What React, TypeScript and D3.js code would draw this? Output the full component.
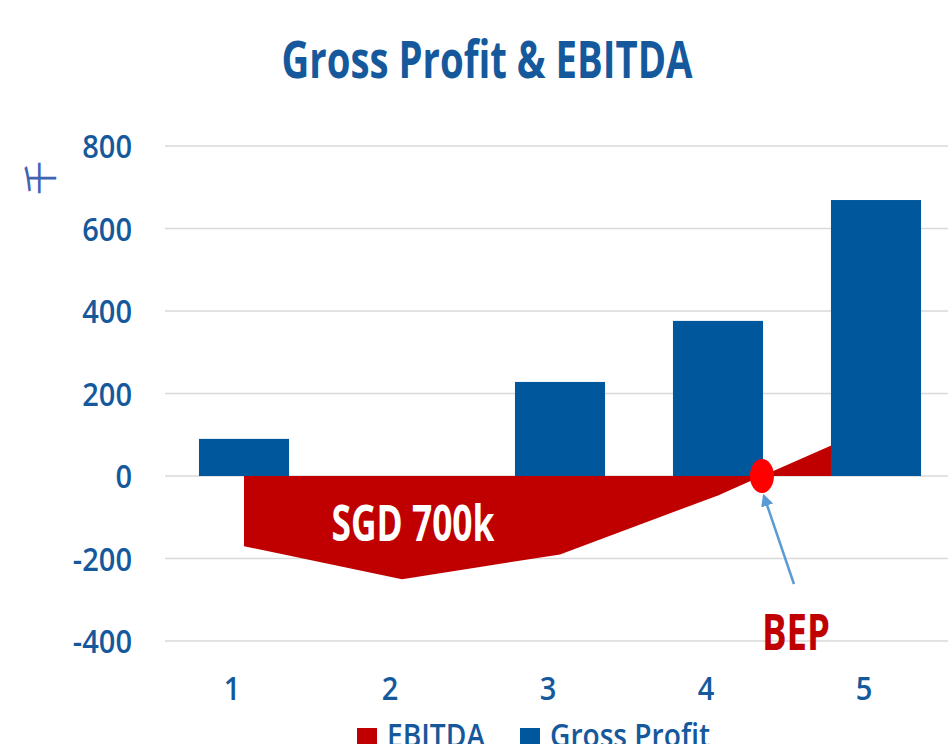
import React from "react";
import * as d3 from "d3";

const categories = ["1", "2", "3", "4", "5"];
const grossProfit = [90, 0, 228, 376, 669];
const ebitda = [-170, -250, -190, -47, 122];
const yTicks = [-400, -200, 0, 200, 400, 600, 800];
const legendItems = ["EBITDA", "Gross Profit"];

const W = 948;
const H = 744;
const BLUE = "#00579b";
const RED = "#c00000";
const TXT = "#15599c";
const FONT = "'Open Sans', 'Noto Sans', sans-serif";

export default function App() {
  const x = d3
    .scaleBand<string>()
    .domain(categories)
    .range([165, 955])
    .paddingInner(0.43)
    .paddingOuter(0.215);
  const y = d3.scaleLinear().domain([-400, 800]).range([641, 146]);
  const cx = (c: string) => (x(c) as number) + x.bandwidth() / 2;

  const pts = categories.map((c, i) => ({ c, v: ebitda[i] }));
  const area = d3
    .area<{ c: string; v: number }>()
    .x((d) => cx(d.c))
    .y0(y(0))
    .y1((d) => y(d.v));

  // break-even point from data (zero crossing of EBITDA)
  let bepX = 0;
  for (let i = 0; i < ebitda.length - 1; i++) {
    if (ebitda[i] < 0 && ebitda[i + 1] >= 0) {
      const x0 = cx(categories[i]);
      const x1 = cx(categories[i + 1]);
      bepX = x0 + ((x1 - x0) * -ebitda[i]) / (ebitda[i + 1] - ebitda[i]);
    }
  }
  const bepY = y(0);

  return (
    <svg
      width={W}
      height={H}
      style={{ position: "absolute", left: 0, top: 0, background: "#fff" }}
      fontFamily={FONT}
    >
      <defs>
        <marker
          id="arr"
          viewBox="0 0 10 10"
          refX="8"
          refY="5"
          markerWidth="5"
          markerHeight="5"
          orient="auto"
        >
          <path d="M0,0 L10,5 L0,10 z" fill="#5b9bd5" />
        </marker>
      </defs>
      <rect x={0} y={0} width={W} height={H} fill="#fff" />
      <text
        x={487}
        y={78}
        textAnchor="middle"
        fontSize={52}
        fontWeight="bold"
        fill={TXT}
        textLength={411}
        lengthAdjust="spacingAndGlyphs"
      >
        Gross Profit &amp; EBITDA
      </text>
      <text
        transform={`translate(53,178) rotate(-90)`}
        textAnchor="middle"
        fontSize={34}
        fill="#3f64b0"
        fontFamily="'Noto Sans CJK SC', sans-serif"
      >
        千
      </text>
      {yTicks.map((t) => (
        <g key={t}>
          <line x1={165} x2={W} y1={y(t)} y2={y(t)} stroke="#d9d9d9" strokeWidth={1.5} />
          <text
            transform={`translate(132,${y(t) + 12}) scale(0.88,1)`}
            textAnchor="end"
            fontSize={33}
            fontWeight={600}
            fill={TXT}
          >
            {t}
          </text>
        </g>
      ))}
      <path d={area(pts) || ""} fill={RED} />
      {categories.map((c, i) => (
        <rect
          key={c}
          x={x(c)}
          y={y(Math.max(0, grossProfit[i]))}
          width={x.bandwidth()}
          height={Math.abs(y(grossProfit[i]) - y(0))}
          fill={BLUE}
        />
      ))}
      {categories.map((c) => (
        <text
          key={c}
          transform={`translate(${cx(c) - 12},700) scale(0.88,1)`}
          textAnchor="middle"
          fontSize={33}
          fontWeight={600}
          fill={TXT}
        >
          {c}
        </text>
      ))}
      <text
        x={413}
        y={541}
        textAnchor="middle"
        fontSize={50}
        fontWeight="bold"
        fill="#fff"
        textLength={163}
        lengthAdjust="spacingAndGlyphs"
      >
        SGD 700k
      </text>
      <ellipse cx={bepX} cy={bepY} rx={12} ry={17} fill="#ff0000" />
      <line
        x1={bepX + 32}
        y1={bepY + 108}
        x2={bepX + 2}
        y2={bepY + 20}
        stroke="#5b9bd5"
        strokeWidth={2.5}
        markerEnd="url(#arr)"
      />
      <text
        x={796}
        y={650}
        textAnchor="middle"
        fontSize={50}
        fontWeight="bold"
        fill={RED}
        textLength={68}
        lengthAdjust="spacingAndGlyphs"
      >
        BEP
      </text>
      <rect x={357} y={728} width={20} height={20} fill={RED} />
      <text
        x={387}
        y={747}
        fontSize={33}
        fontWeight={600}
        fill={TXT}
        textLength={98}
        lengthAdjust="spacingAndGlyphs"
      >
        {legendItems[0]}
      </text>
      <rect x={520} y={728} width={20} height={20} fill={BLUE} />
      <text
        x={550}
        y={747}
        fontSize={33}
        fontWeight={600}
        fill={TXT}
        textLength={160}
        lengthAdjust="spacingAndGlyphs"
      >
        {legendItems[1]}
      </text>
    </svg>
  );
}
